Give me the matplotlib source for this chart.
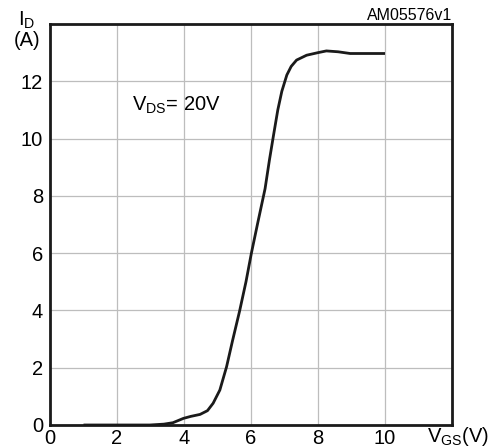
import matplotlib
matplotlib.use("Agg")
import matplotlib.pyplot as plt

plt.rcParams['font.family'] = ['Liberation Sans', 'DejaVu Sans']

# Data
vgs = [1.0, 2.0, 2.98, 3.4, 3.67, 3.98, 4.2, 4.48, 4.7, 4.87, 5.07, 5.27, 5.45,
       5.66, 5.85, 6.01, 6.2, 6.42, 6.55, 6.67, 6.8, 6.92, 7.07, 7.2, 7.36, 7.66,
       8.0, 8.25, 8.6, 8.96, 10.0]
id_a = [0.0, 0.0, 0.0, 0.03, 0.08, 0.23, 0.3, 0.37, 0.5, 0.76, 1.22, 2.03, 2.95,
        3.98, 5.0, 5.99, 7.05, 8.25, 9.25, 10.1, 11.0, 11.65, 12.22, 12.52, 12.74,
        12.91, 13.0, 13.06, 13.03, 12.97, 12.97]

x_ticks = [0, 2, 4, 6, 8, 10]
y_ticks = [0, 2, 4, 6, 8, 10, 12]
x_grid = [2, 4, 6, 8, 10]
y_grid = [2, 4, 6, 8, 10, 12]

FS = 14.5

fig = plt.figure(figsize=(4.91, 4.47), dpi=100)
ax = fig.add_axes([50/491, 22/447, 402/491, 401/447])
ax.set_xlim(0, 12)
ax.set_ylim(0, 14)

for gx in x_grid:
    ax.axvline(gx, color='#bdbdbd', lw=0.9, zorder=1)
for gy in y_grid:
    ax.axhline(gy, color='#bdbdbd', lw=0.9, zorder=1)

ax.plot(vgs, id_a, color='#1a1a1a', lw=2.0, zorder=3, solid_capstyle='butt',
        solid_joinstyle='round')

for s in ax.spines.values():
    s.set_linewidth(2.0)
    s.set_color('#1a1a1a')

ax.set_xticks(x_ticks)
ax.set_yticks(y_ticks)
ax.tick_params(length=0, labelsize=FS, pad=5)
ax.tick_params(axis='x', pad=3)

ax.text(2.45, 11.15, r'V$_{\mathregular{DS}}$= 20V', fontsize=FS, va='center', ha='left')

fig.text(27/491, 1 - 20/447, r'I$_{\mathregular{D}}$', fontsize=FS, ha='center', va='center')
fig.text(27/491, 1 - 40/447, '(A)', fontsize=FS, ha='center', va='center')
fig.text(452/491, 1 - 16/447, 'AM05576v1', fontsize=11.5, ha='right', va='center')
fig.text(489/491, 1 - 437/447, r'V$_{\mathregular{GS}}$(V)', fontsize=FS, ha='right', va='center')

fig.savefig('out.png', dpi=100)
